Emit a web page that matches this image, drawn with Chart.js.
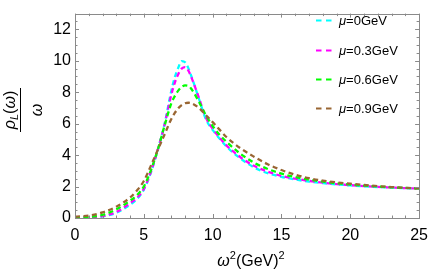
<!DOCTYPE html>
<html>
<head>
<meta charset="utf-8">
<script src="https://cdn.jsdelivr.net/npm/chart.js@4.4.1/dist/chart.umd.min.js"></script>
<style>
    html, body { margin: 0; padding: 0; background: #ffffff; }
    #chart-wrap { position: relative; width: 436px; height: 271px; }
    #chart-wrap canvas { position: absolute; left: 0; top: 0; }
    /* y axis title, a fraction turned to read upwards */
    #y-title {
        position: absolute;
        left: 2.35px;
        top: 88px;
        width: 44px;
        height: 44px;
        transform: rotate(-90deg);
        transform-origin: 50% 50%;
        font-family: "Liberation Sans", Arial, sans-serif;
        font-size: 16px;
        line-height: 16px;
        color: #000;
    }
    #y-title .num { position: absolute; left: 0; top: 0; width: 44px; text-align: center; white-space: nowrap; }
    #y-title .bar { position: absolute; left: 0; top: 18px; width: 44px; height: 1.3px; background: #000; }
    #y-title .den { position: absolute; left: 0; top: 27px; width: 44px; text-align: center; }
    #y-title sub { font-size: 11px; vertical-align: -3px; line-height: 0; }
</style>
</head>
<body>
<div id="chart-wrap">
    <canvas id="rhoChart" width="436" height="271"></canvas>
    <div id="y-title">
        <div class="num"><i>ρ</i><sub><i>L</i></sub>(<i>ω</i>)</div>
        <div class="bar"></div>
        <div class="den"><i>ω</i></div>
    </div>
</div>
<script>
// omega^2 in GeV^2
const omegaSq = [0, 1, 2, 3, 4, 4.5, 5, 5.5, 6, 6.5, 7, 7.25, 7.5, 7.75, 8, 8.25, 8.5, 9, 9.5, 10, 10.5, 11, 12, 13, 14, 15, 16, 17, 18, 19, 20, 21, 22, 23, 24, 25];

// rho_L(omega)/omega for each chemical potential
const rhoMu0  = [0, 0.02, 0.1, 0.33, 0.85, 1.2, 1.8, 2.85, 4.3, 5.95, 8.1, 8.95, 9.55, 9.98, 9.9, 9.5, 8.9, 7.6, 6.3, 5.6, 5.05, 4.55, 3.8, 3.22, 2.85, 2.62, 2.45, 2.32, 2.22, 2.14, 2.07, 2.02, 1.97, 1.93, 1.9, 1.87];
const rhoMu03 = [0.01, 0.03, 0.12, 0.38, 0.95, 1.28, 1.85, 2.9, 4.3, 5.9, 7.85, 8.6, 9.15, 9.5, 9.6, 9.35, 8.85, 7.65, 6.4, 5.68, 5.12, 4.62, 3.88, 3.32, 2.95, 2.68, 2.5, 2.36, 2.25, 2.16, 2.09, 2.03, 1.98, 1.94, 1.9, 1.87];
const rhoMu06 = [0.03, 0.07, 0.2, 0.55, 1.1, 1.45, 2.0, 3.0, 4.3, 5.85, 7.3, 7.75, 8.1, 8.33, 8.43, 8.4, 8.15, 7.4, 6.55, 5.85, 5.3, 4.85, 4.1, 3.52, 3.12, 2.82, 2.6, 2.44, 2.31, 2.21, 2.13, 2.06, 2.0, 1.95, 1.91, 1.88];
const rhoMu09 = [0.08, 0.15, 0.36, 0.72, 1.3, 1.75, 2.35, 3.3, 4.3, 5.3, 6.3, 6.68, 6.98, 7.18, 7.3, 7.33, 7.28, 7.0, 6.55, 6.1, 5.62, 5.15, 4.45, 3.9, 3.42, 3.05, 2.75, 2.53, 2.38, 2.27, 2.18, 2.1, 2.03, 1.97, 1.92, 1.88];

const muLabels = ['0', '0.3', '0.6', '0.9'];
const lineColors = ['#00ffff', '#ff00ff', '#00ff00', '#996633'];

const xTicks = [0, 5, 10, 15, 20, 25];
const yTicks = [0, 2, 4, 6, 8, 10, 12];

const FONT = '"Liberation Sans", Arial, sans-serif';
const FRAME = '#8a8a8a';

function toPoints(ys) {
    return omegaSq.map((x, i) => ({ x: x, y: ys[i] }));
}

// frame, inner ticks, x title and legend (Mathematica style)
const decorPlugin = {
    id: 'decor',
    afterDatasetsDraw(chart) {
        const ctx = chart.ctx;
        const area = chart.chartArea;
        const xs = chart.scales.x;
        const ys = chart.scales.y;

        ctx.save();
        ctx.strokeStyle = FRAME;
        ctx.lineWidth = 1;
        ctx.strokeRect(Math.round(area.left) + 0.5, Math.round(area.top) + 0.5,
            Math.round(area.right - area.left), Math.round(area.bottom - area.top));

        ctx.beginPath();
        for (let v = 0; v <= 25; v += 1) {
            const px = Math.round(xs.getPixelForValue(v)) + 0.5;
            const len = (v % 5 === 0) ? 4 : 2.5;
            ctx.moveTo(px, area.bottom);
            ctx.lineTo(px, area.bottom - len);
            ctx.moveTo(px, area.top);
            ctx.lineTo(px, area.top + len);
        }
        for (let v = 0; v <= 13; v += 0.5) {
            const py = Math.round(ys.getPixelForValue(v)) + 0.5;
            const len = (v % 2 === 0) ? 4 : 2.5;
            ctx.moveTo(area.left, py);
            ctx.lineTo(area.left + len, py);
            ctx.moveTo(area.right, py);
            ctx.lineTo(area.right - len, py);
        }
        ctx.stroke();

        ctx.fillStyle = '#000';
        ctx.textBaseline = 'alphabetic';

        // x title: omega^2 (GeV)^2
        const italic = 'italic 16px ' + FONT;
        const normal = '16px ' + FONT;
        const sup = '11px ' + FONT;
        const parts = [
            { t: '\u03c9', f: italic, dy: 0 },
            { t: '2', f: sup, dy: -7 },
            { t: '(GeV)', f: normal, dy: 0 },
            { t: '2', f: sup, dy: -7 }
        ];
        let total = 0;
        parts.forEach(p => { ctx.font = p.f; p.w = ctx.measureText(p.t).width; total += p.w; });
        let tx = 251 - total / 2;
        parts.forEach(p => { ctx.font = p.f; ctx.fillText(p.t, tx, 266 + p.dy); tx += p.w; });

        // legend
        const rowY = [20, 50, 79, 108];
        chart.data.datasets.forEach((ds, i) => {
            const y = rowY[i];
            ctx.strokeStyle = ds.borderColor;
            ctx.lineWidth = 2.2;
            ctx.setLineDash([5.5, 4.5]);
            ctx.beginPath();
            ctx.moveTo(316, y + 0.5);
            ctx.lineTo(332, y + 0.5);
            ctx.stroke();
            ctx.setLineDash([]);
            ctx.textBaseline = 'middle';
            ctx.font = 'italic 13px ' + FONT;
            ctx.fillText('\u03bc', 339, y + 1);
            const mw = ctx.measureText('\u03bc').width;
            ctx.font = '13px ' + FONT;
            ctx.fillText('=' + muLabels[i] + 'GeV', 339 + mw, y + 1);
        });
        ctx.restore();
    }
};

document.addEventListener('DOMContentLoaded', function() {
    const seriesValues = [rhoMu0, rhoMu03, rhoMu06, rhoMu09];

    const datasets = seriesValues.map((vals, i) => ({
        label: '\u03bc=' + muLabels[i] + 'GeV',
        data: toPoints(vals),
        borderColor: lineColors[i],
        borderWidth: 2.3,
        borderDash: [5, 3.5],
        pointRadius: 0,
        fill: false,
        cubicInterpolationMode: 'monotone',
        order: seriesValues.length - i
    }));

    const ctx = document.getElementById('rhoChart').getContext('2d');
    new Chart(ctx, {
        type: 'line',
        data: { datasets: datasets },
        options: {
            responsive: false,
            animation: false,
            devicePixelRatio: 1,
            layout: { padding: { top: 1, right: 8, left: 0, bottom: 0 } },
            plugins: {
                legend: { display: false },
                tooltip: { enabled: false }
            },
            scales: {
                x: {
                    type: 'linear',
                    min: 0,
                    max: 25,
                    afterBuildTicks: (scale) => { scale.ticks = xTicks.map(v => ({ value: v })); },
                    afterFit: (scale) => { scale.height = 53; },
                    grid: { display: false, drawTicks: false },
                    border: { display: false },
                    ticks: {
                        padding: 8,
                        color: '#000',
                        maxRotation: 0,
                        font: { family: FONT, size: 16 }
                    }
                },
                y: {
                    type: 'linear',
                    min: 0,
                    max: 13,
                    afterBuildTicks: (scale) => { scale.ticks = yTicks.map(v => ({ value: v })); },
                    afterFit: (scale) => { scale.width = 75; },
                    grid: { display: false, drawTicks: false },
                    border: { display: false },
                    ticks: {
                        padding: 4,
                        color: '#000',
                        font: { family: FONT, size: 16 }
                    }
                }
            }
        },
        plugins: [decorPlugin]
    });
});
</script>
</body>
</html>
